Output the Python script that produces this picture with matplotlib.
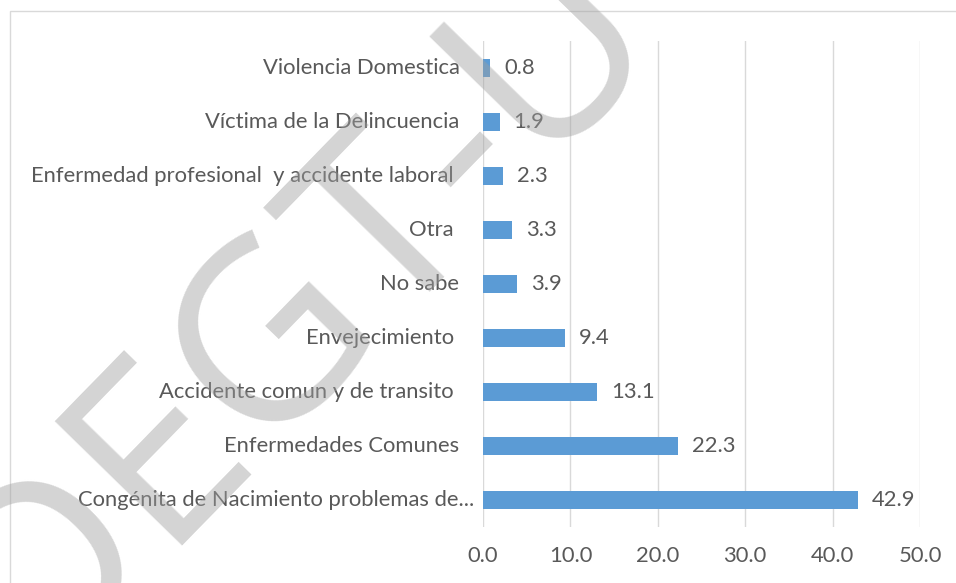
import matplotlib
matplotlib.use("Agg")
import matplotlib.pyplot as plt
from matplotlib.patches import Rectangle

# categories from bottom to top
categories = ["Congénita de Nacimiento problemas de...",
              "Enfermedades Comunes",
              "Accidente comun y de transito ",
              "Envejecimiento ",
              "No sabe",
              "Otra ",
              "Enfermedad profesional  y accidente laboral ",
              "Víctima de la Delincuencia",
              "Violencia Domestica"]
values = [42.9, 22.3, 13.1, 9.4, 3.9, 3.3, 2.3, 1.9, 0.8]
xticks = [0, 10, 20, 30, 40, 50]

txt = "#595959"
fs = 15.8
plt.rcParams['font.family'] = ['Lato', 'DejaVu Sans']

fig = plt.figure(figsize=(9.56, 5.83), dpi=100)
ax = fig.add_axes([483/956, 1-527/583, (920-483)/956, (527-41)/583])

# outer chart border
fig.patches.append(Rectangle((10/956, -0.01), 1.0, 1-11/583+0.01, transform=fig.transFigure,
                             fill=False, edgecolor="#d9d9d9", lw=1))

y = range(len(values))
ax.barh(y, values, height=0.35, color="#5B9BD5", zorder=3)
ax.set_xlim(0, 50)
ax.set_ylim(-0.5, len(values)-0.5)
ax.set_xticks(xticks)
ax.set_xticklabels(["%.1f" % t for t in xticks], color=txt, fontsize=fs)
ax.tick_params(axis="x", length=0, pad=14)
ax.set_yticks([])
ax.grid(axis="x", color="#d9d9d9", lw=1, zorder=0)
for s in ax.spines.values():
    s.set_visible(False)

for i, (c, v) in enumerate(zip(categories, values)):
    off = 17 if i > 0 else 6
    ax.annotate(c, xy=(0, i), xycoords=("axes fraction", "data"), xytext=(-off, 0),
                textcoords="offset points", ha="right", va="center", color=txt, fontsize=fs)
    ax.annotate("%.1f" % v, xy=(v, i), xytext=(10, 0), textcoords="offset points",
                ha="left", va="center", color=txt, fontsize=fs)

# watermark
fig.text(32/956, 1-675/583, "DEGT-U", rotation=45.7, rotation_mode="anchor", fontsize=180,
         family="Open Sans", color="#a0a0a0", alpha=0.45, ha="left", va="baseline", zorder=10)

fig.savefig("out.png", dpi=100)
